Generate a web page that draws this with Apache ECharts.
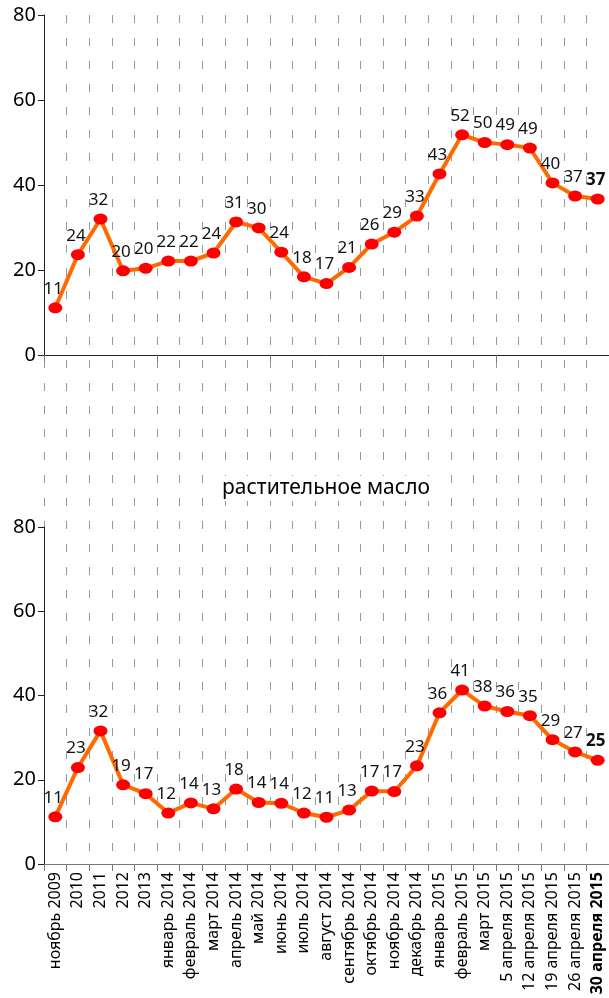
<!DOCTYPE html>
<html>
<head>
<meta charset="utf-8">
<script src="https://cdn.jsdelivr.net/npm/echarts@6/dist/echarts.min.js"></script>
<style>
  html, body { margin: 0; padding: 0; background: #fff; }
  #container { width: 609px; height: 998px; }
</style>
</head>
<body>
<div id="container"></div>
<script>
// категории по оси X
var categories = ['ноябрь 2009', '2010', '2011', '2012', '2013', 'январь 2014', 'февраль 2014',
  'март 2014', 'апрель 2014', 'май 2014', 'июнь 2014', 'июль 2014', 'август 2014',
  'сентябрь 2014', 'октябрь 2014', 'ноябрь 2014', 'декабрь 2014', 'январь 2015',
  'февраль 2015', 'март 2015', '5 апреля 2015', '12 апреля 2015', '19 апреля 2015',
  '26 апреля 2015', '30 апреля 2015'];

// верхний график
var topValues = [11.1, 23.6, 32, 19.8, 20.4, 22.1, 22.1, 24, 31.3, 29.9, 24.2, 18.4, 16.8,
  20.6, 26.1, 28.9, 32.7, 42.6, 51.8, 50, 49.5, 48.7, 40.5, 37.4, 36.7];
var topLabels = ['11', '24', '32', '20', '20', '22', '22', '24', '31', '30', '24', '18', '17',
  '21', '26', '29', '33', '43', '52', '50', '49', '49', '40', '37', '37'];

// растительное масло
var oilValues = [11.2, 22.9, 31.6, 18.8, 16.7, 12.1, 14.5, 13.1, 17.8, 14.6, 14.4, 12.1, 11.1,
  12.8, 17.3, 17.2, 23.3, 35.9, 41.3, 37.5, 36.2, 35.2, 29.5, 26.6, 24.6];
var oilLabels = ['11', '23', '32', '19', '17', '12', '14', '13', '18', '14', '14', '12', '11',
  '13', '17', '17', '23', '36', '41', '38', '36', '35', '29', '27', '25'];

var yTicks = [0, 20, 40, 60, 80];
var font = 'Noto Sans';

var myChart = echarts.init(document.getElementById('container'));

function makeSeries(vals, labels, idx) {
  var last = vals.length - 1;
  return {
    type: 'line',
    xAxisIndex: idx,
    yAxisIndex: idx,
    data: vals.map(function (v, i) {
      return {
        value: v,
        label: i === last ? { fontWeight: 'bold' } : {}
      };
    }),
    symbol: 'circle',
    symbolSize: [14, 11],
    itemStyle: { color: '#ff0000' },
    lineStyle: { color: '#ff6a00', width: 4 },
    z: 5,
    label: {
      show: true,
      position: 'top',
      offset: [-2, -1],
      distance: 4,
      fontFamily: font,
      fontSize: 17,
      color: '#111',
      formatter: function (p) { return labels[p.dataIndex]; }
    }
  };
}

function yAxis(idx) {
  return {
    type: 'value',
    gridIndex: idx,
    min: 0, max: 80, interval: 20,
    axisLine: { show: true, lineStyle: { color: '#222', width: 1 } },
    axisTick: { show: true, length: 6, lineStyle: { color: '#222' } },
    axisLabel: {
      fontFamily: font, fontSize: 20, color: '#000', margin: 8,
      formatter: function (v) { return yTicks.indexOf(v) >= 0 ? String(v) : ''; }
    },
    splitLine: { show: false }
  };
}

var option = {
  backgroundColor: '#fff',
  animation: false,
  title: {
    text: 'растительное масло',
    left: 318,
    textAlign: 'center',
    top: 476,
    backgroundColor: '#fff',
    padding: [2, 8],
    textStyle: { fontFamily: font, fontSize: 21, fontWeight: 'normal', color: '#000' }
  },
  grid: [
    { left: 44, right: -3, top: 15, height: 340 },
    { left: 44, right: -3, top: 527, height: 337 },
    { left: 44, right: -3, top: 15, bottom: 134 }
  ],
  xAxis: [
    {
      type: 'category', gridIndex: 0, data: categories, boundaryGap: true,
      axisLine: { lineStyle: { color: '#222' } },
      axisTick: { show: true, length: 7, lineStyle: { color: '#777' } },
      axisLabel: { show: false },
      splitLine: { show: false }
    },
    {
      type: 'category', gridIndex: 1, data: categories, boundaryGap: true,
      axisLine: { lineStyle: { color: '#777' } },
      axisTick: { show: true, length: 7, lineStyle: { color: '#777' } },
      axisLabel: {
        rotate: 90, interval: 0, margin: 8,
        fontFamily: font, fontSize: 16, color: '#000',
        formatter: function (v) {
          return v === categories[categories.length - 1] ? '{b|' + v + '}' : v;
        },
        rich: { b: { fontWeight: 'bold', fontFamily: font, fontSize: 16, color: '#000' } }
      },
      splitLine: { show: false }
    },
    {
      type: 'category', gridIndex: 2, data: categories, boundaryGap: true,
      axisLine: { show: false }, axisTick: { show: false }, axisLabel: { show: false },
      splitLine: { show: true, interval: 0, lineStyle: { color: '#999', width: 1, type: [8, 15] } }
    }
  ],
  yAxis: [
    yAxis(0),
    yAxis(1),
    { type: 'value', gridIndex: 2, show: false, splitLine: { show: false } }
  ],
  series: [
    makeSeries(topValues, topLabels, 0),
    makeSeries(oilValues, oilLabels, 1)
  ]
};

myChart.setOption(option);
</script>
</body>
</html>
